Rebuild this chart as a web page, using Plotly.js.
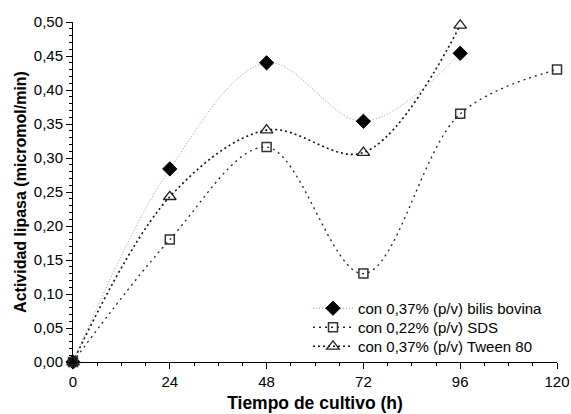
<!DOCTYPE html>
<html>
<head>
<meta charset="utf-8">
<script src="https://cdn.plot.ly/plotly-3.0.1.min.js"></script>
<style>html,body{margin:0;padding:0;background:#fff;}#chart{width:571px;height:414px;}</style>
</head>
<body>
<div id="chart"></div>
<script>
const hours = [0, 24, 48, 72, 96, 120];
const bilisHours = [0, 24, 48, 72, 96];
const bilisValues = [0.000, 0.284, 0.440, 0.354, 0.454];
const sdsHours = [0, 24, 48, 72, 96, 120];
const sdsValues = [0.000, 0.180, 0.316, 0.130, 0.365, 0.430];
const tweenHours = [0, 24, 48, 72, 96];
const tweenValues = [0.000, 0.243, 0.341, 0.308, 0.495];
const seriesNames = ["con 0,37% (p/v) bilis bovina", "con 0,22% (p/v) SDS", "con 0,37% (p/v) Tween 80"];
const yTicks = [0, 0.05, 0.10, 0.15, 0.20, 0.25, 0.30, 0.35, 0.40, 0.45, 0.50];

const font = "Liberation Sans, Arial, sans-serif";
const traces = [
  {x: bilisHours, y: bilisValues, name: seriesNames[0], mode: "lines+markers", legend: "legend",
   line: {shape: "spline", smoothing: 1, color: "#7f9aa6", width: 1, dash: "1px,2px"},
   marker: {symbol: "diamond", size: 11, color: "#000", line: {color: "#000", width: 1}}, cliponaxis: false},
  {x: sdsHours, y: sdsValues, name: seriesNames[1], mode: "lines+markers", legend: "legend2",
   line: {shape: "spline", smoothing: 1, color: "#222", width: 1.3, dash: "2px,4px"},
   marker: {symbol: "square-open", size: 9, color: "#333", line: {color: "#333", width: 1.5}}, cliponaxis: false},
  {x: tweenHours, y: tweenValues, name: seriesNames[2], mode: "lines+markers", legend: "legend3",
   line: {shape: "spline", smoothing: 1, color: "#111", width: 1.6, dash: "2px,3px"},
   marker: {symbol: "triangle-up-open", size: 11, color: "#222", line: {color: "#222", width: 1.3}}, cliponaxis: false}
];

function legendAt(y) {
  return {x: 0.4855, y: y, xanchor: "left", yanchor: "top", bgcolor: "rgba(0,0,0,0)",
          font: {family: font, size: 15, color: "#000"}, itemwidth: 40};
}

const layout = {
  width: 571, height: 414,
  margin: {l: 73, r: 14, t: 22, b: 52},
  paper_bgcolor: "#fff", plot_bgcolor: "#fff",
  separators: ",.",
  font: {family: font, size: 15, color: "#000"},
  showlegend: true,
  legend: legendAt(0.206),
  legend2: legendAt(0.150),
  legend3: legendAt(0.094),
  xaxis: {range: [0, 120], tickvals: hours, ticktext: hours.map(String),
          ticks: "outside", ticklen: 6, tickwidth: 1, tickcolor: "#000",
          showline: true, linecolor: "#000", linewidth: 1, showgrid: false, zeroline: false,
          tickfont: {family: font, size: 15},
          minor: {dtick: 6, ticks: "outside", ticklen: 3, tickcolor: "#000", showgrid: false},
          title: {text: "<b>Tiempo de cultivo (h)</b>", font: {family: font, size: 17.5}, standoff: 7}},
  yaxis: {range: [0, 0.5], tickvals: yTicks, tickformat: ".2f",
          ticks: "outside", ticklen: 6, tickwidth: 1, tickcolor: "#000",
          showline: true, linecolor: "#000", linewidth: 1, showgrid: false, zeroline: false,
          tickfont: {family: font, size: 15},
          minor: {dtick: 0.01, ticks: "outside", ticklen: 3, tickcolor: "#000", showgrid: false},
          title: {text: "<b>Actividad lipasa (micromol/min)</b>", font: {family: font, size: 16}, standoff: 3}}
};
Plotly.newPlot("chart", traces, layout, {displayModeBar: false, staticPlot: true});
</script>
</body>
</html>
